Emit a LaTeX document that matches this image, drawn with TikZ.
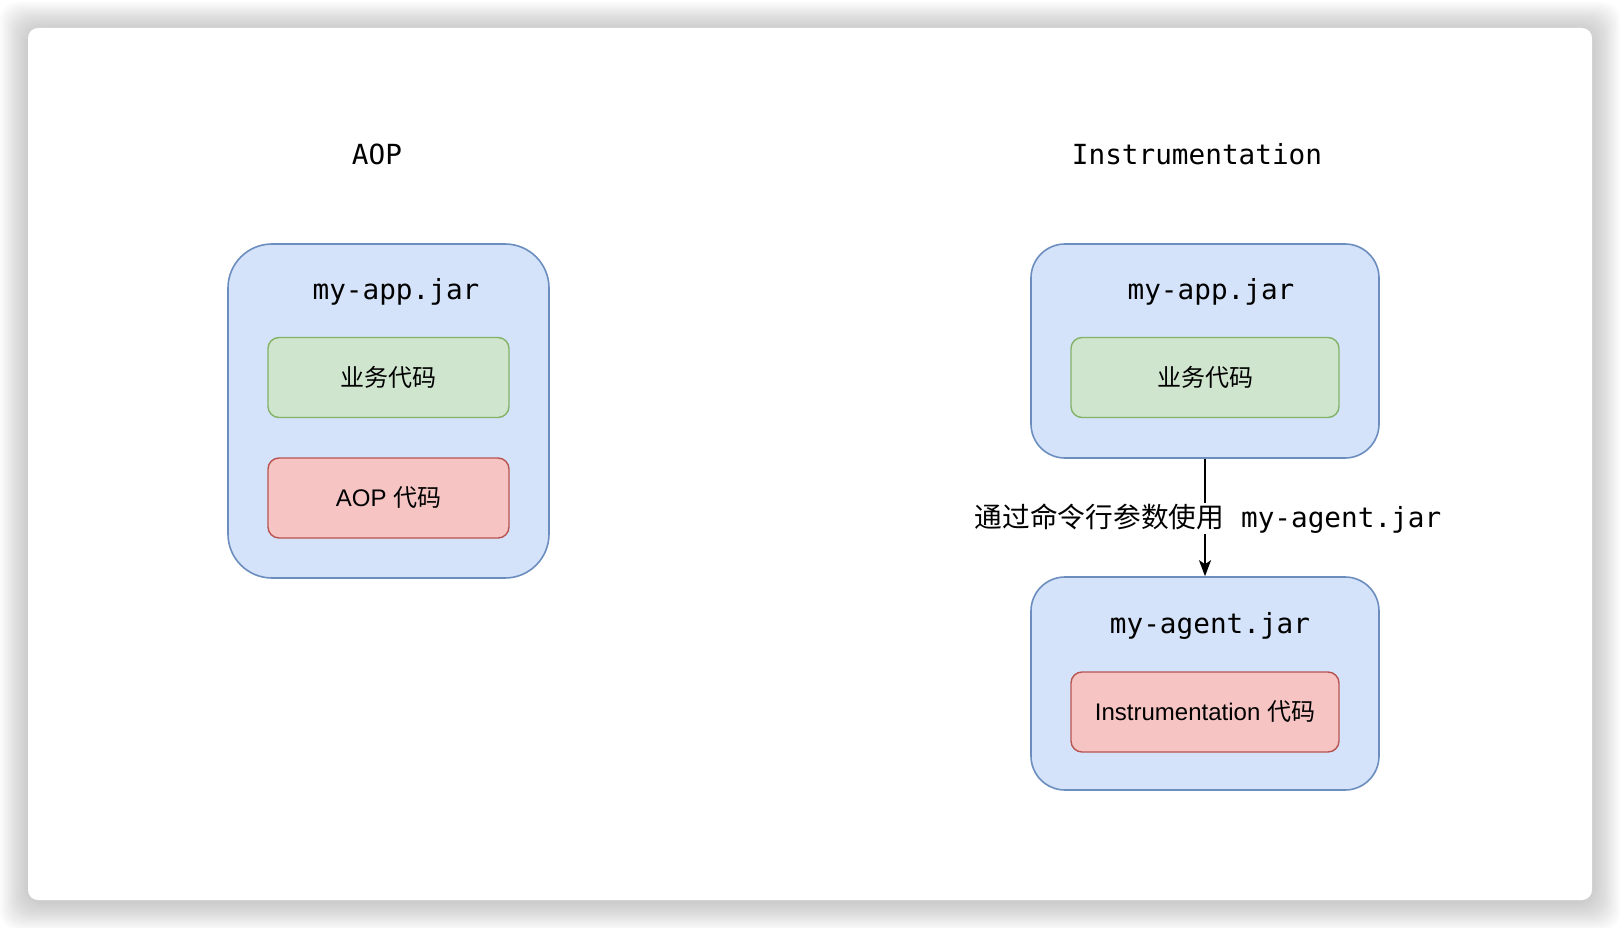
\documentclass[tikz,border=0pt]{standalone}
\usepackage{fontspec}
\setmainfont{Liberation Sans}
\newfontfamily\cjk{Noto Sans CJK SC}
\newfontfamily\monof{DejaVu Sans Mono}
\usetikzlibrary{arrows.meta}
\definecolor{bfill}{HTML}{D4E3FA}
\definecolor{bdraw}{HTML}{6C8EBF}
\definecolor{gfill}{HTML}{D0E5CE}
\definecolor{gdraw}{HTML}{82B366}
\definecolor{rfill}{HTML}{F5C4C3}
\definecolor{rdraw}{HTML}{B85450}
\tikzset{
  outerbox/.style={draw=bdraw, fill=bfill, line width=1.6pt, inner sep=0pt},
  greenbox/.style={draw=gdraw, fill=gfill, line width=1.4pt, rounded corners=11pt, inner sep=0pt,
     minimum width=241pt, minimum height=80pt, font=\fontsize{24}{28}\selectfont},
  redbox/.style={draw=rdraw, fill=rfill, line width=1.4pt, rounded corners=11pt, inner sep=0pt,
     font=\fontsize{24}{28}\selectfont},
  monolabel/.style={inner sep=0pt, font=\monof\fontsize{27.7}{32}\selectfont},
  conn/.style={line width=1.5pt, -{Stealth[length=16pt,width=12pt,inset=4pt]}},
}
\begin{document}
\begin{tikzpicture}[x=1pt,y=-1pt]
\useasboundingbox (0,0) rectangle (1620,928);
% shadow
\foreach \i in {1,...,14} {
  \fill[black, opacity=0.015, rounded corners=18pt] ({28-2*\i},{30-2*\i}) rectangle ({1592+2*\i},{902+2*\i});
}
\fill[white, rounded corners=10pt] (28,28) rectangle (1592,900);

% titles
\node[monolabel] (aop) at (377,154) {AOP};
\node[monolabel] (instr) at (1197,154) {Instrumentation};

% left group
\node[outerbox, rounded corners=44pt, minimum width=321pt, minimum height=334pt] (lapp) at (388.5,411) {};
\node[monolabel] (lappt) at (396,292) {my-app.jar};
\node[greenbox] (lbiz) at (388.5,377.5) {\cjk 业务代码};
\node[redbox, minimum width=241pt, minimum height=80pt] (laop) at (388.5,498) {AOP {\cjk 代码}};

% right top group
\node[outerbox, rounded corners=34pt, minimum width=348pt, minimum height=214pt] (rapp) at (1205,351) {};
\node[monolabel] (rappt) at (1211,292) {my-app.jar};
\node[greenbox, minimum width=268pt] (rbiz) at (1205,377.5) {\cjk 业务代码};

% right bottom group
\node[outerbox, rounded corners=34pt, minimum width=348pt, minimum height=213pt] (ragent) at (1205,683.5) {};
\node[monolabel] (ragentt) at (1210,626) {my-agent.jar};
\node[redbox, minimum width=268pt, minimum height=80pt] (rinst) at (1205,712) {Instrumentation {\cjk 代码}};

% connector
\draw[conn] (rapp.south) -- (ragent.north)
  node[midway, fill=white, inner sep=1pt, xshift=3pt, yshift=-1pt, font=\fontsize{27.7}{32}\selectfont] (lbl)
  {{\cjk 通过命令行参数使用}\hspace{17pt}{\monof my-agent.jar}};
\end{tikzpicture}
\end{document}
